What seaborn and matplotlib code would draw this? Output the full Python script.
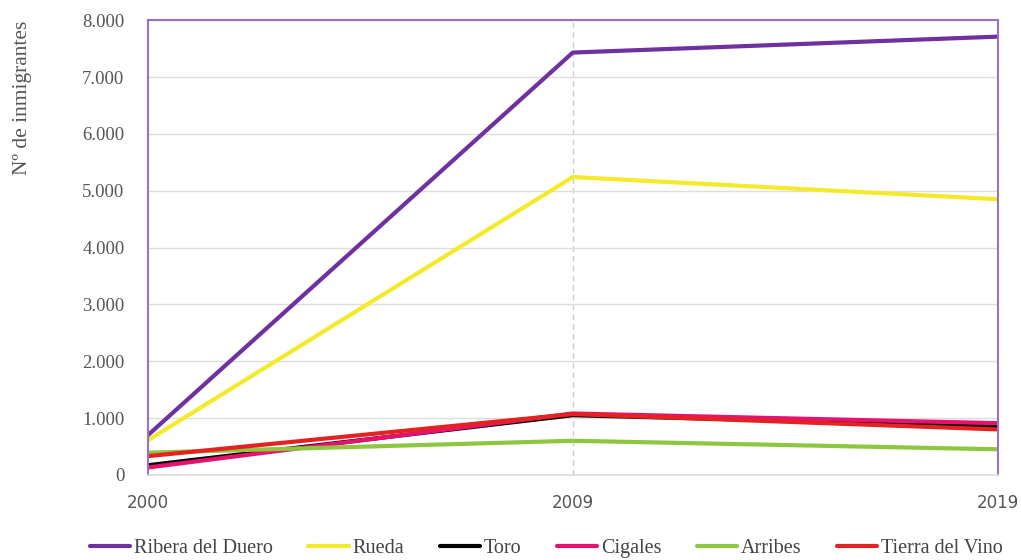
import numpy as np
import pandas as pd
import matplotlib
matplotlib.use('Agg')
import matplotlib.pyplot as plt
import seaborn as sns
from matplotlib.ticker import FuncFormatter

# Datos
anios = ['2000', '2009', '2019']
ribera = [700, 7430, 7710]
rueda = [610, 5240, 4850]
toro = [170, 1050, 860]
cigales = [130, 1080, 910]
arribes = [390, 600, 450]
tierra_vino = [330, 1070, 800]

series = {
    'Ribera del Duero': ribera,
    'Rueda': rueda,
    'Toro': toro,
    'Cigales': cigales,
    'Arribes': arribes,
    'Tierra del Vino': tierra_vino,
}
colores = ['#7030A0', '#F2EA2A', '#000000', '#E5136E', '#8DC63F', '#E52222']

df = pd.DataFrame([
    {'anio': a, 'valor': v, 'zona': z}
    for z, vals in series.items() for a, v in zip(anios, vals)
])

sns.set_theme(style='white')
plt.rcParams['font.family'] = ['Liberation Serif', 'DejaVu Serif']

fig = plt.figure(figsize=(10.21, 5.6), dpi=100)
ax = fig.add_axes([0.145, 0.152, 0.832, 0.812])

sns.lineplot(data=df, x='anio', y='valor', hue='zona', palette=colores,
             linewidth=3, sort=False, ax=ax, legend=True)

ax.set_ylim(0, 8000)
ax.set_xlim(0, 2)
ax.set_yticks(np.arange(0, 8001, 1000))
ax.yaxis.set_major_formatter(FuncFormatter(lambda v, p: f'{int(v):,}'.replace(',', '.')))
ax.grid(axis='y', color='#DDDDDD', linewidth=1)
ax.set_axisbelow(True)
ax.axvline(1, color='#CCCCCC', linestyle=(0, (4, 3)), linewidth=1, zorder=0)

for s in ['left', 'top', 'right']:
    ax.spines[s].set_color('#9B72C0')
    ax.spines[s].set_linewidth(1.5)
ax.spines['bottom'].set_color('#DDDDDD')

ax.tick_params(axis='y', labelsize=13.5, colors='#555555', length=0, pad=17)
ax.tick_params(axis='x', labelsize=12, colors='#555555', length=0, pad=14)
for t in ax.get_xticklabels():
    t.set_family('DejaVu Sans')
ax.set_xlabel('')
ax.set_ylabel('Nº de inmigrantes', fontsize=15.5, color='#555555')
ax.yaxis.set_label_coords(-0.137, 0.83)

handles, labels = ax.get_legend_handles_labels()
ax.legend(handles, labels, loc='upper center', bbox_to_anchor=(0.469, -0.102),
          ncol=6, frameon=False, fontsize=14.5, handlelength=2.0,
          handletextpad=0.2, columnspacing=1.75, labelcolor='#444444')

fig.savefig('out.png', dpi=100)
